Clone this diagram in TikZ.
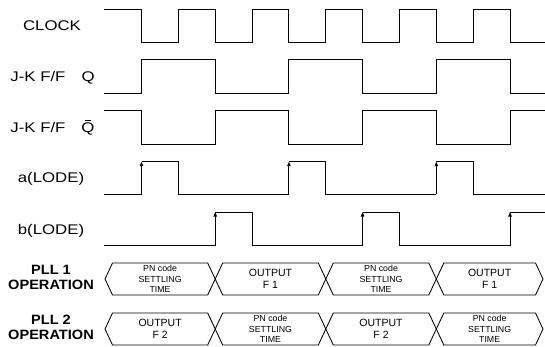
\documentclass[tikz,border=0pt]{standalone}
\usepackage{fontspec}
\setmainfont{Liberation Sans}
\newfontfamily\labfont[FakeStretch=1.2]{Liberation Sans}
\newfontfamily\oplabfont[FakeStretch=1.08]{Liberation Sans}
\usetikzlibrary{arrows.meta}
\newcommand\busbox[6]{%
  \draw[busline] (#2,#4) -- ({#2+7.5},{#4-16}) -- ({#3-7.5},{#4-16}) -- (#3,#4)
     -- ({#3-7.5},{#4+16}) -- ({#2+7.5},{#4+16}) -- cycle;
  \node[bustext,#5] (#1) at ({(#2+#3)/2},#4) {#6};}
\newcommand\qbarsym{\leavevmode\rlap{\hspace{4pt}\rule[12.5pt]{5.5pt}{0.9pt}}Q}
\begin{document}
\begin{tikzpicture}[x=1pt,y=-1pt,
  wave/.style={draw,line width=1pt,line join=miter},
  uparrow/.style={draw,line width=1pt,-{Triangle[length=4.5pt,width=3.4pt]}},
  busline/.style={draw,line width=0.85pt,line join=miter},
  lab/.style={font=\labfont\fontsize{14}{14}\selectfont,anchor=base,inner sep=0pt},
  oplab/.style={font=\oplabfont\bfseries\fontsize{13.5}{15}\selectfont,align=center,inner sep=0pt},
  bustext/.style={align=center,inner sep=0pt},
  outtxt/.style={font=\fontsize{10.5}{12.5}\selectfont},
  pntxt/.style={font=\fontsize{8.8}{10.8}\selectfont}]
\useasboundingbox (0,0) rectangle (545,347);

% labels
\node[lab] (lclk) at (52,31) {CLOCK};
\node[lab] (lq) at (52.5,82) {J-K F/F\hspace{16pt}Q};
\node[lab] (lqb) at (52.5,133) {J-K F/F\hspace{16pt}\qbarsym};
\node[lab] (la) at (51,183) {a(LODE)};
\node[lab] (lb) at (51,234) {b(LODE)};
\node[oplab] (lp1) at (51,277.5) {PLL 1\\OPERATION};
\node[oplab] (lp2) at (51,327.5) {PLL 2\\OPERATION};

% CLOCK
\draw[wave] (104,9.3) -| (141.5,42.7) -| (178.4,9.3) -| (215.2,42.7) -| (252.1,9.3)
  -| (288.9,42.7) -| (325.8,9.3) -| (362.6,42.7) -| (399.5,9.3) -| (436.3,42.7)
  -| (473.2,9.3) -| (510,42.7) -- (545,42.7);
% Q
\draw[wave] (104,94) -| (141.5,60) -| (215.2,94) -| (288.9,60) -| (362.6,94)
  -| (436.3,60) -| (510,94) -- (545,94);
% Q bar
\draw[wave] (104,111) -| (141.5,144.5) -| (215.2,111) -| (288.9,144.5) -| (362.6,111)
  -| (436.3,144.5) -| (510,111) -- (545,111);
% a(LODE)
\draw[wave] (104,194.3) -- (141.5,194.3);
\draw[uparrow] (141.5,194.3) -- (141.5,161.7);
\draw[wave] (141.5,161.7) -| (178.4,194.3) -- (288.9,194.3);
\draw[uparrow] (288.9,194.3) -- (288.9,161.7);
\draw[wave] (288.9,161.7) -| (325.8,194.3) -- (436.3,194.3);
\draw[uparrow] (436.3,194.3) -- (436.3,161.7);
\draw[wave] (436.3,161.7) -| (473.2,194.3) -- (545,194.3);
% b(LODE)
\draw[wave] (104,245.7) -- (215.2,245.7);
\draw[uparrow] (215.2,245.7) -- (215.2,212);
\draw[wave] (215.2,212) -| (252.1,245.7) -- (362.6,245.7);
\draw[uparrow] (362.6,245.7) -- (362.6,212);
\draw[wave] (362.6,212) -| (399.5,245.7) -- (510,245.7);
\draw[uparrow] (510,245.7) -- (510,212);
\draw[wave] (510,212) -- (545,212);

% PLL 1 bus
\busbox{p1a}{105}{215.2}{279}{pntxt}{PN code\\SETTLING\\TIME}
\busbox{p1b}{215.2}{325.8}{279}{outtxt}{OUTPUT\\F 1}
\busbox{p1c}{325.8}{436.3}{279}{pntxt}{PN code\\SETTLING\\TIME}
\busbox{p1d}{436.3}{543}{279}{outtxt}{OUTPUT\\F 1}
% PLL 2 bus
\busbox{p2a}{105}{215.2}{329}{outtxt}{OUTPUT\\F 2}
\busbox{p2b}{215.2}{325.8}{329}{pntxt}{PN code\\SETTLING\\TIME}
\busbox{p2c}{325.8}{436.3}{329}{outtxt}{OUTPUT\\F 2}
\busbox{p2d}{436.3}{543}{329}{pntxt}{PN code\\SETTLING\\TIME}
\end{tikzpicture}
\end{document}
